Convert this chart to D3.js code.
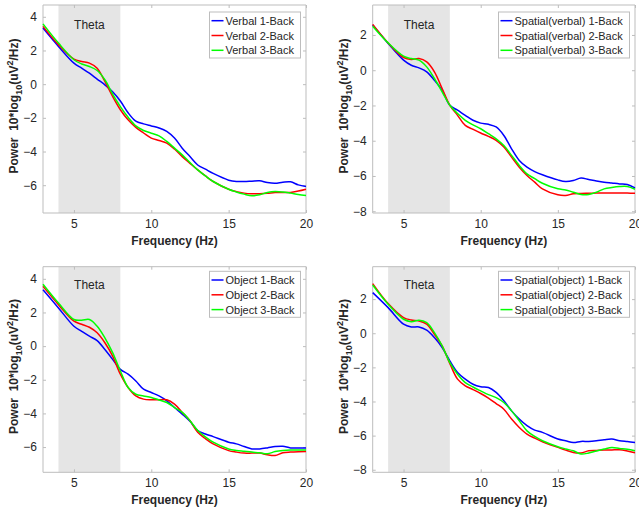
<!DOCTYPE html>
<html>
<head>
<meta charset="utf-8">
<script src="https://cdn.jsdelivr.net/npm/d3@7"></script>
<style>
  body { margin: 0; background: #fff; }
  svg { display: block; font-family: Arial, "Liberation Sans", sans-serif; }
</style>
</head>
<body>
<div id="chart"></div>
<script>
// frequency grid (Hz) shared by all series
const freq = [3,4,5,5.5,6,6.5,7,7.5,8,8.5,9,9.5,10,10.5,11,11.5,12,12.5,13,13.5,14,15,15.5,16,16.5,17,17.5,18,18.5,19,19.5,20];

// Verbal
const verbal1 = [3.33,2.24,1.25,0.95,0.65,0.3,-0.04,-0.45,-1.0,-1.7,-2.2,-2.36,-2.48,-2.6,-2.8,-3.2,-3.8,-4.3,-4.8,-5.05,-5.3,-5.7,-5.78,-5.78,-5.76,-5.74,-5.84,-5.88,-5.82,-5.8,-5.98,-6.08];
const verbal2 = [3.43,2.34,1.49,1.35,1.25,0.95,0.16,-0.73,-1.52,-2.12,-2.57,-2.9,-3.2,-3.35,-3.5,-3.85,-4.3,-4.7,-5.09,-5.45,-5.78,-6.24,-6.38,-6.47,-6.51,-6.51,-6.48,-6.43,-6.43,-6.43,-6.35,-6.24];
const verbal3 = [3.58,2.44,1.45,1.2,1.05,0.81,0.26,-0.59,-1.33,-1.96,-2.48,-2.75,-2.91,-3.07,-3.4,-3.8,-4.2,-4.65,-5.09,-5.45,-5.78,-6.24,-6.4,-6.53,-6.63,-6.57,-6.43,-6.37,-6.4,-6.47,-6.55,-6.61];

// Spatial (verbal)
const spVerbal1 = [2.56,1.52,0.57,0.28,0.13,-0.09,-0.57,-1.14,-1.99,-2.27,-2.56,-2.84,-3.0,-3.07,-3.22,-3.7,-4.46,-5.12,-5.5,-5.75,-5.93,-6.22,-6.31,-6.26,-6.12,-6.2,-6.28,-6.35,-6.4,-6.45,-6.48,-6.67];
const spVerbal2 = [2.6,1.55,0.72,0.61,0.66,0.47,-0.09,-1.04,-1.99,-2.56,-3.13,-3.35,-3.56,-3.75,-3.98,-4.36,-4.93,-5.5,-5.97,-6.35,-6.73,-7.07,-7.11,-7.01,-6.99,-6.98,-6.97,-6.96,-6.96,-6.96,-6.97,-6.98];
const spVerbal3 = [2.5,1.55,0.8,0.66,0.57,0.19,-0.47,-1.23,-1.99,-2.46,-2.84,-3.1,-3.32,-3.6,-3.89,-4.27,-4.83,-5.4,-5.88,-6.15,-6.41,-6.73,-6.79,-6.92,-7.05,-7.05,-6.92,-6.73,-6.65,-6.6,-6.6,-6.75];

// Object
const object1 = [3.35,2.27,1.18,0.88,0.59,0.33,-0.2,-0.79,-1.38,-1.67,-2.07,-2.56,-2.76,-2.96,-3.25,-3.65,-4.04,-4.47,-5.02,-5.22,-5.38,-5.71,-5.81,-5.97,-6.11,-6.11,-6.05,-5.97,-5.95,-6.05,-6.05,-6.05];
const object2 = [3.55,2.46,1.48,1.3,1.12,0.79,0.2,-0.59,-1.67,-2.46,-2.96,-3.15,-3.19,-3.19,-3.19,-3.45,-3.94,-4.43,-5.12,-5.5,-5.81,-6.21,-6.3,-6.36,-6.36,-6.36,-6.46,-6.5,-6.34,-6.3,-6.28,-6.27];
const object3 = [3.68,2.56,1.58,1.54,1.58,1.18,0.49,-0.39,-1.48,-2.46,-2.86,-2.96,-3.05,-3.2,-3.35,-3.65,-3.94,-4.43,-5.02,-5.4,-5.71,-6.11,-6.2,-6.25,-6.3,-6.34,-6.4,-6.27,-6.2,-6.17,-6.17,-6.17];

// Spatial (object)
const spObject1 = [2.38,1.5,0.53,0.37,0.37,0.18,-0.25,-0.84,-1.62,-2.3,-2.69,-2.99,-3.14,-3.18,-3.47,-3.96,-4.55,-5.03,-5.42,-5.68,-5.81,-6.2,-6.3,-6.4,-6.34,-6.34,-6.3,-6.24,-6.2,-6.3,-6.35,-6.4];
const spObject2 = [2.91,1.74,0.92,0.78,0.72,0.53,-0.06,-0.74,-1.78,-2.69,-3.08,-3.3,-3.53,-3.8,-4.12,-4.45,-5.03,-5.52,-5.91,-6.15,-6.36,-6.69,-6.85,-6.99,-7.02,-6.89,-6.87,-6.85,-6.84,-6.83,-6.9,-7.0];
const spObject3 = [2.83,1.7,0.82,0.68,0.76,0.62,0.04,-0.74,-1.72,-2.4,-2.89,-3.15,-3.38,-3.6,-3.77,-4.06,-4.55,-5.13,-5.72,-6.05,-6.3,-6.65,-6.78,-6.89,-7.08,-7.02,-6.9,-6.79,-6.69,-6.75,-6.8,-6.89];

const seriesColors = ['#0000ff', '#ff0000', '#00ff00'];
const loads = ['1-Back', '2-Back', '3-Back'];
const xTicks = [5, 10, 15, 20];
const thetaBand = [4, 8];

const panels = [
  { name: 'Verbal', series: [verbal1, verbal2, verbal3], yDomain: [-7.65, 4.7], yTicks: [-6,-4,-2,0,2,4],
    x0: 43, x1: 306, y0: 5, y1: 213, legW: 91, legTop: 7, thetaY: 24 },
  { name: 'Spatial(verbal)', series: [spVerbal1, spVerbal2, spVerbal3], yDomain: [-8.1, 3.7], yTicks: [-8,-6,-4,-2,0,2],
    x0: 372.7, x1: 635, y0: 5, y1: 213, legW: 131, legTop: 7, thetaY: 24 },
  { name: 'Object', series: [object1, object2, object3], yDomain: [-7.5, 4.72], yTicks: [-6,-4,-2,0,2,4],
    x0: 43, x1: 306, y0: 266.7, y1: 472.3, legW: 91, legTop: 4.6, thetaY: 22 },
  { name: 'Spatial(object)', series: [spObject1, spObject2, spObject3], yDomain: [-8.15, 3.9], yTicks: [-8,-6,-4,-2,0,2],
    x0: 372.7, x1: 635, y0: 266.7, y1: 472.3, legW: 131, legTop: 4.6, thetaY: 22 }
];

const svg = d3.select('#chart').append('svg')
  .attr('width', 639)
  .attr('height', 508);

const axisGray = '#bdbdbd';
const textGray = '#262626';

panels.forEach(p => {
  const x = d3.scaleLinear().domain([3, 20]).range([p.x0, p.x1]);
  const y = d3.scaleLinear().domain(p.yDomain).range([p.y1, p.y0]);
  const g = svg.append('g');

  // theta band
  g.append('rect')
    .attr('x', x(thetaBand[0]))
    .attr('y', p.y0)
    .attr('width', x(thetaBand[1]) - x(thetaBand[0]))
    .attr('height', p.y1 - p.y0)
    .attr('fill', '#e5e5e5');

  g.append('text')
    .attr('x', (x(thetaBand[0]) + x(thetaBand[1])) / 2)
    .attr('y', p.y0 + p.thetaY)
    .attr('text-anchor', 'middle')
    .attr('font-size', 12)
    .attr('fill', textGray)
    .text('Theta');

  // axes (box with inward ticks, matlab style)
  const bottom = g.append('g').attr('transform', `translate(0,${p.y1})`)
    .call(d3.axisBottom(x).tickValues(xTicks).tickSize(-3).tickPadding(6));
  const top = g.append('g').attr('transform', `translate(0,${p.y0})`)
    .call(d3.axisTop(x).tickValues(xTicks).tickSize(-3).tickFormat(''));
  const left = g.append('g').attr('transform', `translate(${p.x0},0)`)
    .call(d3.axisLeft(y).tickValues(p.yTicks).tickSize(-3).tickPadding(6).tickFormat(d3.format('d')));
  const right = g.append('g').attr('transform', `translate(${p.x1},0)`)
    .call(d3.axisRight(y).tickValues(p.yTicks).tickSize(-3).tickFormat(''));

  [bottom, top, left, right].forEach(a => {
    a.select('.domain').attr('stroke', axisGray).attr('stroke-width', 1);
    a.selectAll('.tick line').attr('stroke', axisGray);
    a.selectAll('.tick text')
      .attr('fill', textGray)
      .style('font-size', '12px')
      .style('font-family', 'Arial, "Liberation Sans", sans-serif');
  });
  bottom.selectAll('.domain').attr('d', `M${p.x0},0H${p.x1}`);
  top.selectAll('.domain').attr('d', `M${p.x0},0H${p.x1}`);
  left.selectAll('.domain').attr('d', `M0,${p.y0}V${p.y1}`);
  right.selectAll('.domain').attr('d', `M0,${p.y0}V${p.y1}`);

  // curves
  const line = d3.line()
    .x((d, i) => x(freq[i]))
    .y(d => y(d))
    .curve(d3.curveCatmullRom);

  p.series.forEach((s, i) => {
    g.append('path')
      .datum(s)
      .attr('d', line)
      .attr('fill', 'none')
      .attr('stroke', seriesColors[i])
      .attr('stroke-width', 1.5);
  });

  // axis labels
  g.append('text')
    .attr('x', (p.x0 + p.x1) / 2)
    .attr('y', p.y1 + 32)
    .attr('text-anchor', 'middle')
    .attr('font-size', 12)
    .attr('font-weight', 'bold')
    .attr('fill', textGray)
    .text('Frequency (Hz)');

  const yl = g.append('text')
    .attr('transform', `translate(${p.x0 - 25},${(p.y0 + p.y1) / 2 - 3}) rotate(-90)`)
    .attr('text-anchor', 'middle')
    .attr('font-size', 12)
    .attr('font-weight', 'bold')
    .attr('fill', textGray);
  yl.append('tspan').text('Power\u00a0\u00a010*log');
  yl.append('tspan').attr('font-size', 9).attr('dy', 4).text('10');
  yl.append('tspan').attr('dy', -4).text('(uV');
  yl.append('tspan').attr('font-size', 9).attr('dy', -5).text('2');
  yl.append('tspan').attr('dy', 5).text('/Hz)');

  // legend
  const lx = p.x1 - 5.5 - p.legW;
  const ly = p.y0 + p.legTop;
  const leg = g.append('g').attr('transform', `translate(${lx},${ly})`);
  leg.append('rect')
    .attr('width', p.legW)
    .attr('height', 46)
    .attr('fill', '#fff')
    .attr('stroke', axisGray);
  loads.forEach((l, i) => {
    const ry = 8.7 + i * 14.8;
    leg.append('line')
      .attr('x1', 2).attr('x2', 14)
      .attr('y1', ry).attr('y2', ry)
      .attr('stroke', seriesColors[i])
      .attr('stroke-width', 1.5);
    leg.append('text')
      .attr('x', 16)
      .attr('y', ry + 4)
      .attr('font-size', 11)
      .attr('fill', textGray)
      .text(`${p.name} ${l}`);
  });
});
</script>
</body>
</html>
